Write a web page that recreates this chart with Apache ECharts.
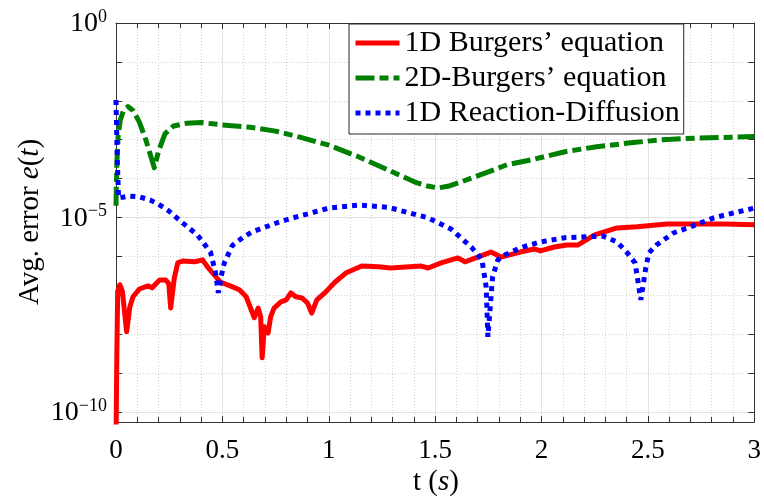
<!DOCTYPE html>
<html><head><meta charset="utf-8">
<script src="https://cdn.jsdelivr.net/npm/echarts@6/dist/echarts.min.js"></script>
<style>html,body{margin:0;padding:0;background:#fff}#c{width:764px;height:499px}</style>
</head><body><div id="c"></div>
<script>
// ---- data (y values are log10 of the average error) ----
const seriesNames = ['1D Burgers’ equation', '2D-Burgers’ equation', '1D Reaction-Diffusion'];
const xTickValues = [0, 0.5, 1, 1.5, 2, 2.5, 3];
const yDecadeExps = [-10, -9, -8, -7, -6, -5, -4, -3, -2, -1, 0];
const yLabelExps = [-10, -5, 0];

const burgers1dT = [0,0.004,0.008,0.018,0.03,0.05,0.065,0.08,0.11,0.15,0.17,0.205,0.234,0.248,0.257,0.274,0.29,0.313,0.37,0.407,0.43,0.462,0.49,0.537,0.58,0.612,0.636,0.65,0.668,0.68,0.687,0.697,0.706,0.715,0.727,0.743,0.775,0.8,0.822,0.845,0.874,0.9,0.92,0.944,0.985,1.03,1.08,1.155,1.234,1.29,1.435,1.467,1.528,1.607,1.64,1.7,1.762,1.81,1.9,1.966,1.995,2.06,2.12,2.17,2.25,2.355,2.45,2.59,2.86,3.0];
const burgers1dLogErr = [-10.8,-8.5,-6.9,-6.73,-6.9,-7.94,-7.3,-7.04,-6.84,-6.76,-6.81,-6.61,-6.61,-6.7,-7.33,-6.56,-6.17,-6.12,-6.14,-6.09,-6.27,-6.48,-6.66,-6.76,-6.86,-7.04,-7.38,-7.58,-7.33,-7.55,-8.61,-7.81,-7.9,-7.97,-7.55,-7.33,-7.17,-7.12,-6.94,-7.04,-7.07,-7.2,-7.46,-7.12,-6.92,-6.66,-6.43,-6.25,-6.27,-6.3,-6.25,-6.3,-6.17,-6.04,-6.14,-6.02,-5.89,-6.02,-5.89,-5.81,-5.86,-5.76,-5.71,-5.71,-5.45,-5.27,-5.24,-5.17,-5.17,-5.19];

const burgers2dT = [0,0.004,0.01,0.02,0.035,0.056,0.08,0.11,0.14,0.165,0.18,0.2,0.23,0.27,0.33,0.4,0.5,0.63,0.75,0.86,1.0,1.14,1.28,1.405,1.47,1.514,1.56,1.62,1.75,1.84,1.95,2.11,2.26,2.42,2.57,2.73,3.0];
const burgers2dLogErr = [-4.7,-3.6,-2.9,-2.5,-2.25,-2.15,-2.25,-2.55,-3.0,-3.45,-3.72,-3.3,-2.85,-2.65,-2.58,-2.56,-2.62,-2.68,-2.78,-2.93,-3.14,-3.44,-3.78,-4.09,-4.2,-4.24,-4.2,-4.09,-3.83,-3.64,-3.52,-3.31,-3.18,-3.08,-3.0,-2.96,-2.92];

const reactDiffT = [0,0.006,0.012,0.02,0.06,0.11,0.16,0.2,0.243,0.313,0.383,0.444,0.467,0.481,0.495,0.509,0.547,0.6,0.64,0.766,0.813,1.0,1.14,1.28,1.467,1.575,1.67,1.72,1.74,1.748,1.77,1.795,1.83,1.9,1.995,2.11,2.29,2.355,2.4,2.44,2.467,2.49,2.505,2.54,2.62,2.7,2.81,2.92,3.0];
const reactDiffLogErr = [-1.98,-3.5,-4.5,-4.47,-4.45,-4.47,-4.55,-4.66,-4.81,-5.14,-5.45,-5.89,-6.4,-6.94,-6.5,-6.17,-5.72,-5.5,-5.37,-5.12,-5.04,-4.76,-4.68,-4.74,-5.01,-5.3,-5.76,-6.09,-6.79,-8.07,-6.53,-6.09,-5.96,-5.78,-5.63,-5.52,-5.48,-5.63,-5.89,-6.17,-7.12,-6.3,-5.91,-5.71,-5.4,-5.24,-5.01,-4.86,-4.76];

// ---- chart ----
const FONT = 'Liberation Serif';
const pair = (xs, ys) => xs.map((x, i) => [x, ys[i]]);
const AX = '#333333';
const COLORS = ['#ff0000', '#008000', '#0000ff'];
const DASHES = ['solid', [19, 5, 9, 5], [5, 5]];
const LW = 5;
const supText = v => '{b|10}{s|' + (v === 0 ? '0' : '−' + Math.abs(v)) + '}';
const nameRich = {
  n: {fontFamily: FONT, fontSize: 29, fill: '#000'},
  i: {fontFamily: FONT, fontSize: 29, fontStyle: 'italic', fill: '#000'}
};

const chart = echarts.init(document.getElementById('c'), null, {renderer: 'canvas'});
const xBase = {
  type: 'value', min: 0, max: 3, interval: 0.5,
  axisLine: {show: true, onZero: false, lineStyle: {color: AX, width: 1}},
  axisTick: {show: true, inside: true, length: 6, lineStyle: {color: AX}},
  minorTick: {show: true, splitNumber: 5, length: 5, lineStyle: {color: AX}}
};
const yBase = {
  type: 'value', min: -10.26, max: 0,
  axisLine: {show: true, onZero: false, lineStyle: {color: AX, width: 1}},
  axisTick: {show: true, inside: true, length: 6, customValues: yDecadeExps, lineStyle: {color: AX}}
};

chart.setOption({
  animation: false,
  backgroundColor: '#fff',
  textStyle: {fontFamily: FONT},
  grid: {left: 116, right: 6, top: 23, bottom: 77, containLabel: false},
  legend: {
    orient: 'vertical', left: 349, top: 24,
    itemWidth: 44, itemHeight: 12, itemGap: 5,
    padding: [4, 4, 6, 4],
    backgroundColor: '#fff', borderColor: '#262626', borderWidth: 1, borderRadius: 0,
    textStyle: {fontFamily: FONT, fontSize: 30, color: '#000', lineHeight: 30},
    itemStyle: {opacity: 0},
    data: seriesNames.map((n, k) => ({
      name: n,
      itemStyle: {opacity: 0, borderWidth: 0},
      lineStyle: {width: LW, color: COLORS[k], type: DASHES[k], opacity: 1, cap: 'butt'}
    }))
  },
  graphic: [
    {type: 'text', left: 'center', x: 0, style: {}, silent: true, invisible: true},
    {
      type: 'text', x: 436, y: 482, silent: true,
      style: {text: '{n|t (}{i|s}{n|)}', rich: nameRich, align: 'center', verticalAlign: 'middle'}
    },
    {
      type: 'text', x: 30, y: 222, rotation: Math.PI / 2, silent: true,
      style: {text: '{n|Avg. error }{i|e}{n|(}{i|t}{n|)}', rich: nameRich, align: 'center', verticalAlign: 'middle'}
    }
  ],
  xAxis: [
    Object.assign({}, xBase, {
      position: 'bottom',
      axisLabel: {show: true, margin: 15, fontFamily: FONT, fontSize: 27, color: '#000', customValues: xTickValues},
      splitLine: {show: true, lineStyle: {color: '#e3e3e3', width: 1, type: 'solid'}},
      minorSplitLine: {show: true, lineStyle: {color: '#d2d2d2', width: 1, type: [1, 2]}}
    }),
    Object.assign({}, xBase, {
      position: 'top', axisLabel: {show: false},
      splitLine: {show: false}, minorSplitLine: {show: false}
    })
  ],
  yAxis: [
    Object.assign({}, yBase, {
      position: 'left',
      axisLabel: {
        show: true, margin: 9, customValues: yLabelExps, formatter: supText,
        rich: {
          b: {fontFamily: FONT, fontSize: 28, color: '#000', lineHeight: 30, verticalAlign: 'bottom'},
          s: {fontFamily: FONT, fontSize: 18, color: '#000', lineHeight: 18, verticalAlign: 'top'}
        }
      },
      splitLine: {show: true, lineStyle: {color: '#d2d2d2', width: 1, type: [1, 2]}}
    }),
    Object.assign({}, yBase, {
      position: 'right', axisLabel: {show: false}, splitLine: {show: false}
    }),
    {
      type: 'value', min: -10.26, max: 0, position: 'left',
      axisLine: {show: false}, axisLabel: {show: false},
      axisTick: {show: false, customValues: yLabelExps},
      splitLine: {show: true, lineStyle: {color: '#e3e3e3', width: 1, type: 'solid'}}
    }
  ],
  series: [
    {
      name: seriesNames[0], type: 'line', data: pair(burgers1dT, burgers1dLogErr),
      symbol: 'none', showSymbol: false, clip: true, z: 3,
      lineStyle: {color: COLORS[0], width: LW, type: DASHES[0], cap: 'butt', join: 'round'},
      itemStyle: {color: COLORS[0]}
    },
    {
      name: seriesNames[1], type: 'line', data: pair(burgers2dT, burgers2dLogErr),
      symbol: 'none', showSymbol: false, clip: true, z: 4,
      lineStyle: {color: COLORS[1], width: LW, type: DASHES[1], cap: 'butt', join: 'round'},
      itemStyle: {color: COLORS[1]}
    },
    {
      name: seriesNames[2], type: 'line', data: pair(reactDiffT, reactDiffLogErr),
      symbol: 'none', showSymbol: false, clip: true, z: 5,
      lineStyle: {color: COLORS[2], width: LW, type: DASHES[2], cap: 'butt', join: 'bevel'},
      itemStyle: {color: COLORS[2]}
    }
  ]
});
</script>
</body></html>
